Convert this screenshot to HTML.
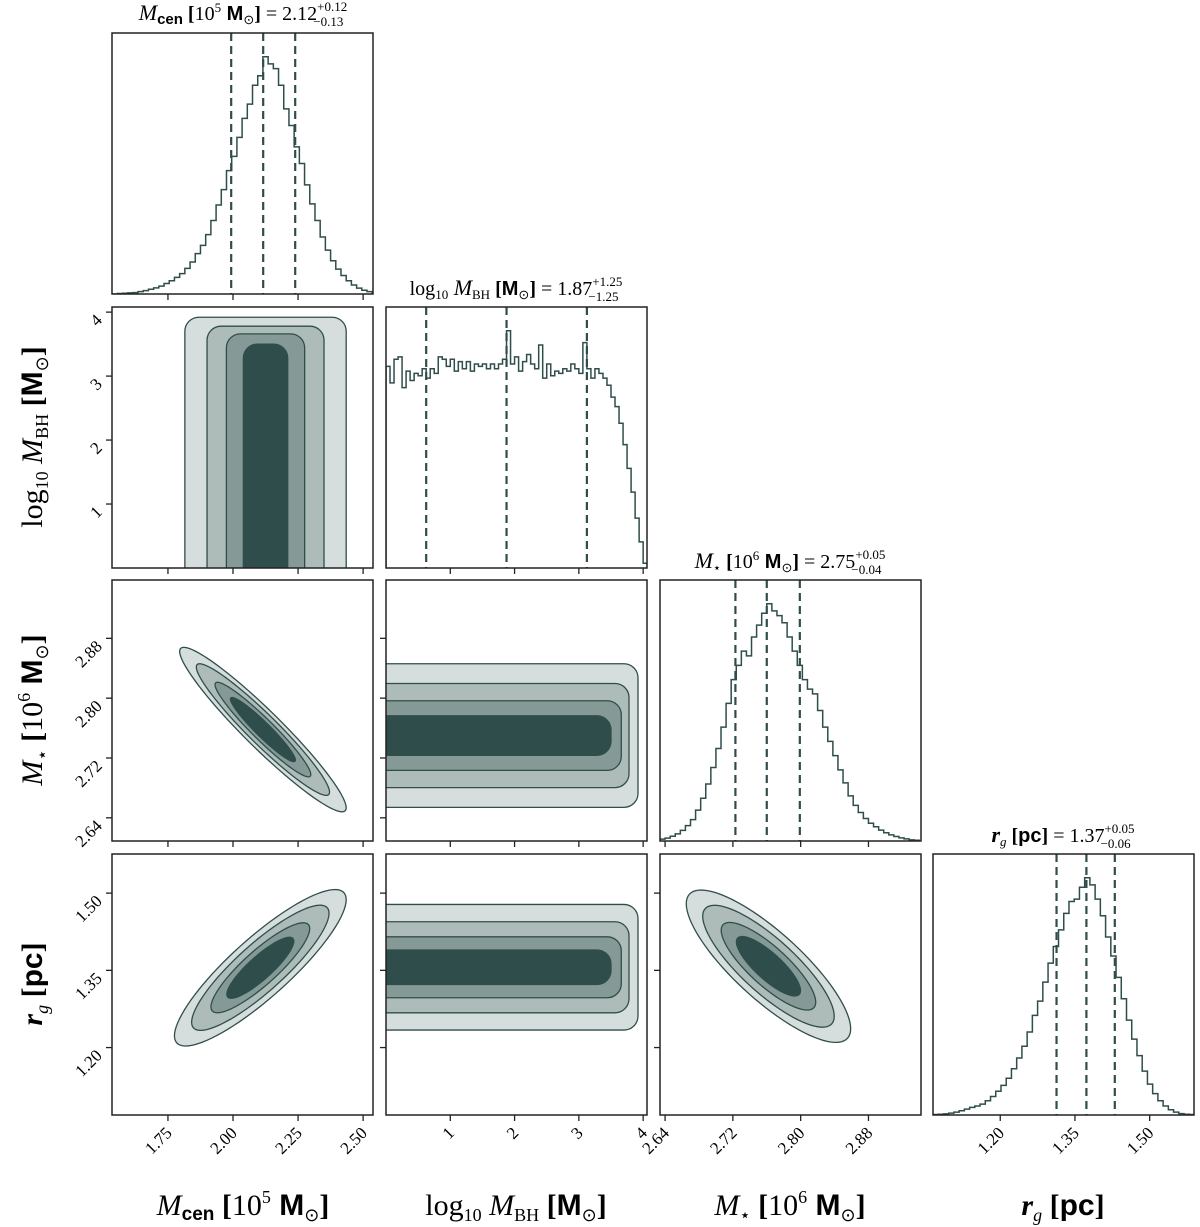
<!DOCTYPE html>
<html><head><meta charset="utf-8"><style>
html,body{margin:0;padding:0;background:#fff;}
svg{display:block;font-family:"Liberation Serif",serif;}
</style></head><body>
<svg id="fig" width="1200" height="1227" viewBox="0 0 1200 1227" xmlns="http://www.w3.org/2000/svg">
<defs id="defs"></defs>
<g id="marks"></g>
<g id="frames"></g>
<g id="labels" fill="#000">
  <text x="243" y="20" text-anchor="middle" font-size="20"><tspan font-style="italic" font-size="22">M</tspan><tspan font-family="Liberation Sans" font-weight="bold" font-size="15" dy="4">cen</tspan><tspan dy="-4" font-weight="bold"> [</tspan>10<tspan font-size="13" dy="-8">5</tspan><tspan dy="8" font-family="Liberation Sans" font-weight="bold"> M</tspan><tspan font-size="13" dy="4">⊙</tspan><tspan dy="-4" font-weight="bold">]</tspan> = 2.12<tspan font-size="13" dy="-9">+0.12</tspan><tspan font-size="13" dx="-34" dy="15">−0.13</tspan></text>
  <text x="516" y="295" text-anchor="middle" font-size="20">log<tspan font-size="13" dy="4">10</tspan><tspan dy="-4" font-style="italic" font-size="22"> M</tspan><tspan font-size="13" dy="4">BH</tspan><tspan dy="-4" font-weight="bold"> [</tspan><tspan font-family="Liberation Sans" font-weight="bold">M</tspan><tspan font-size="13" dy="4">⊙</tspan><tspan dy="-4" font-weight="bold">]</tspan> = 1.87<tspan font-size="13" dy="-9">+1.25</tspan><tspan font-size="13" dx="-34" dy="15">−1.25</tspan></text>
  <text x="790" y="568" text-anchor="middle" font-size="20"><tspan font-style="italic" font-size="22">M</tspan><tspan font-size="13" dy="4">⋆</tspan><tspan dy="-4" font-weight="bold"> [</tspan>10<tspan font-size="13" dy="-8">6</tspan><tspan dy="8" font-family="Liberation Sans" font-weight="bold"> M</tspan><tspan font-size="13" dy="4">⊙</tspan><tspan dy="-4" font-weight="bold">]</tspan> = 2.75<tspan font-size="13" dy="-9">+0.05</tspan><tspan font-size="13" dx="-34" dy="15">−0.04</tspan></text>
  <text x="1063" y="842" text-anchor="middle" font-size="20"><tspan font-style="italic" font-weight="bold" font-size="22">r</tspan><tspan font-style="italic" font-size="13" dy="4">g</tspan><tspan dy="-4" font-weight="bold"> [</tspan><tspan font-family="Liberation Sans" font-weight="bold">pc</tspan><tspan font-weight="bold">]</tspan> = 1.37<tspan font-size="13" dy="-9">+0.05</tspan><tspan font-size="13" dx="-34" dy="15">−0.06</tspan></text>
  <text x="243" y="1215" text-anchor="middle" font-size="30"><tspan font-style="italic">M</tspan><tspan font-family="Liberation Sans" font-weight="bold" font-size="19" dy="5">cen</tspan><tspan dy="-5" font-weight="bold"> [</tspan>10<tspan font-size="18" dy="-12">5</tspan><tspan dy="12" font-family="Liberation Sans" font-weight="bold"> M</tspan><tspan font-size="18" dy="6">⊙</tspan><tspan dy="-6" font-weight="bold">]</tspan></text>
  <text x="516" y="1215" text-anchor="middle" font-size="30">log<tspan font-size="18" dy="6">10</tspan><tspan dy="-6" font-style="italic"> M</tspan><tspan font-size="18" dy="6">BH</tspan><tspan dy="-6" font-weight="bold"> [</tspan><tspan font-family="Liberation Sans" font-weight="bold">M</tspan><tspan font-size="18" dy="6">⊙</tspan><tspan dy="-6" font-weight="bold">]</tspan></text>
  <text x="790" y="1215" text-anchor="middle" font-size="30"><tspan font-style="italic">M</tspan><tspan font-size="18" dy="6">⋆</tspan><tspan dy="-6" font-weight="bold"> [</tspan>10<tspan font-size="18" dy="-12">6</tspan><tspan dy="12" font-family="Liberation Sans" font-weight="bold"> M</tspan><tspan font-size="18" dy="6">⊙</tspan><tspan dy="-6" font-weight="bold">]</tspan></text>
  <text x="1063" y="1215" text-anchor="middle" font-size="30"><tspan font-style="italic" font-weight="bold">r</tspan><tspan font-style="italic" font-size="18" dy="6">g</tspan><tspan dy="-6" font-weight="bold"> [</tspan><tspan font-family="Liberation Sans" font-weight="bold">pc</tspan><tspan font-weight="bold">]</tspan></text>
  <text transform="translate(42,437) rotate(-90)" text-anchor="middle" font-size="30">log<tspan font-size="18" dy="6">10</tspan><tspan dy="-6" font-style="italic"> M</tspan><tspan font-size="18" dy="6">BH</tspan><tspan dy="-6" font-weight="bold"> [</tspan><tspan font-family="Liberation Sans" font-weight="bold">M</tspan><tspan font-size="18" dy="6">⊙</tspan><tspan dy="-6" font-weight="bold">]</tspan></text>
  <text transform="translate(42,710) rotate(-90)" text-anchor="middle" font-size="30"><tspan font-style="italic">M</tspan><tspan font-size="18" dy="6">⋆</tspan><tspan dy="-6" font-weight="bold"> [</tspan>10<tspan font-size="18" dy="-12">6</tspan><tspan dy="12" font-family="Liberation Sans" font-weight="bold"> M</tspan><tspan font-size="18" dy="6">⊙</tspan><tspan dy="-6" font-weight="bold">]</tspan></text>
  <text transform="translate(42,984) rotate(-90)" text-anchor="middle" font-size="30"><tspan font-style="italic" font-weight="bold">r</tspan><tspan font-style="italic" font-size="18" dy="6">g</tspan><tspan dy="-6" font-weight="bold"> [</tspan><tspan font-family="Liberation Sans" font-weight="bold">pc</tspan><tspan font-weight="bold">]</tspan></text>
</g>
</svg>
<script>
// ---------- data ----------
const mcenHistStart = 1.535, mcenHistWidth = 0.02;
const mcenHist = [0,0.2,0.3,0.5,0.6,1.0,1.4,2.0,2.6,3.3,4.4,5.6,7.0,8.6,10.8,13.5,17.0,20.5,25.0,31.0,37.5,44.0,52.0,58.0,66.0,74.0,80.0,88.0,92.0,100.0,97.0,95.0,88.0,78.0,71.0,62.0,55.0,46.0,38.0,31.0,24.0,18.5,14.0,10.5,7.8,5.6,3.8,2.5,1.6,1.0];
const mcenQuant = [1.993, 2.116, 2.239];

const mbhHistStart = 0, mbhHistWidth = 0.0625;
const mbhHist = [85,78,88,89,76,83,79,82,81,84,80,84,82,89,88,85,88,83,87,84,87,83,86,85,86,84,86,84,86,88,100,86,89,83,87,90,86,84,94,80,86,81,83,82,84,83,86,84,82,95,84,80,84,82,80,77,72,68,61,52,42,32,21,11,2];
const mbhQuant = [0.625, 1.875, 3.125];

const mstarHistStart = 2.634, mstarHistWidth = 0.006;
const mstarHist = [0.8,1.2,2.0,3.0,4.5,6.5,9.0,13.0,18.0,24.0,31.0,39.0,48.0,58.0,68.0,74.0,80.0,78.0,86.0,91.0,96.0,100.0,97.0,95.0,92.0,86.0,80.0,74.0,68.0,64.0,62.0,55.0,48.0,42.0,36.0,30.0,24.5,19.0,15.0,12.0,9.5,7.5,6.0,4.6,3.5,2.6,1.9,1.3,0.9,0.5,0.3];
const mstarQuant = [2.723, 2.760, 2.799];

const rgHistStart = 1.065, rgHistWidth = 0.0105;
const rgHist = [0.2,0.3,0.5,0.8,1.2,1.8,2.5,3.2,3.8,4.6,6.0,7.8,10.0,12.5,15.5,19.5,24.0,29.0,35.0,42.0,48.0,56.0,64.0,71.0,78.0,85.0,90.0,91.0,96.0,100.0,97.0,91.0,84.0,75.0,67.0,58.0,49.0,40.0,32.0,25.0,18.5,13.0,9.0,6.0,3.8,2.2,1.2,0.6,0.3,0.2];
const rgQuant = [1.313, 1.373, 1.430];

// 2D contours: [meanX, meanY, sdX, sdY, rho]
const sigmaLevels = [2.0, 1.6, 1.15, 0.78];
const mcenMstar = [2.115, 2.758, 0.160, 0.055, -0.95];
const mcenRg = [2.105, 1.355, 0.165, 0.076, 0.87];
const mstarRg = [2.762, 1.358, 0.0485, 0.074, -0.82];
// M_BH (flat) panels
const bandLevels = [2.0, 1.45, 0.97, 0.55];
const mbhTopEdge = [3.92, 3.78, 3.66, 3.50];
const mcenVsBh = [2.125, 0.155];
const mstarVsBh = [2.750, 0.048];
const rgVsBh = [1.356, 0.061];

// tick labels
const mcenTicks = ["1.75","2.00","2.25","2.50"];
const mbhTicks = ["1","2","3","4"];
const mstarTicks = ["2.64","2.72","2.80","2.88"];
const rgTicks = ["1.20","1.35","1.50"];

// ---------- layout ----------
const NS = "http://www.w3.org/2000/svg";
const colX = [112, 386, 660, 933], rowY = [33, 307, 580, 854], W = 261, H = 261;
const xr = {mcen:[1.535,2.538], mbh:[0,4.06], mstar:[2.634,2.942], rg:[1.065,1.589]};
const yr = {mbh:[0,4.08], mstar:[2.609,2.958], rg:[1.069,1.576]};
const vars = ["mcen","mbh","mstar","rg"];
const ticks = {mcen:mcenTicks, mbh:mbhTicks, mstar:mstarTicks, rg:rgTicks};
const fills = ["#d5dedc","#adbcb9","#859a96","#2f4e4b"];
const lineC = "#2f4e4b";

function sx(v, c){ const r = xr[vars[c]]; return colX[c] + (v - r[0]) / (r[1] - r[0]) * W; }
function sy(v, r){ const rg = yr[vars[r]]; return rowY[r] + H - (v - rg[0]) / (rg[1] - rg[0]) * H; }

const marks = document.getElementById("marks");
const frames = document.getElementById("frames");
const defs = document.getElementById("defs");
function mk(tag, attrs, parent){ const e = document.createElementNS(NS, tag); for (const k in attrs) e.setAttribute(k, attrs[k]); (parent||marks).appendChild(e); return e; }

for (let r = 0; r < 4; r++) for (let c = 0; c <= r; c++) {
  const cp = mk("clipPath", {id:"cp"+r+c}, defs);
  mk("rect", {x:colX[c], y:rowY[r], width:W, height:H}, cp);
}

function drawHist(c, start, width, counts, quant, name){
  const maxv = Math.max(...counts);
  const base = rowY[c] + H;
  const hy = v => base - v / (1.1 * maxv) * H;
  let d = "M" + sx(start, c) + "," + base;
  counts.forEach((v, i) => {
    const x0 = sx(start + i * width, c), x1 = sx(start + (i + 1) * width, c);
    d += " L" + x0 + "," + hy(v) + " L" + x1 + "," + hy(v);
  });
  d += " L" + sx(start + counts.length * width, c) + "," + base;
  const g = mk("g", {"clip-path":"url(#cp"+c+c+")"});
  
  
  const p = mk("path", {d:d, fill:"none", stroke:lineC, "stroke-width":1.5}, g);
  
  
  quant.forEach((q, i) => {
    const l = mk("line", {x1:sx(q,c), x2:sx(q,c), y1:rowY[c], y2:base, stroke:lineC, "stroke-width":2.2, "stroke-dasharray":"8,5"}, g);
    
    
  });
}
drawHist(0, mcenHistStart, mcenHistWidth, mcenHist, mcenQuant, "mcen");
drawHist(1, mbhHistStart, mbhHistWidth, mbhHist, mbhQuant, "mbh");
drawHist(2, mstarHistStart, mstarHistWidth, mstarHist, mstarQuant, "mstar");
drawHist(3, rgHistStart, rgHistWidth, rgHist, rgQuant, "rg");

function drawEllipses(r, c, p, name){
  const g = mk("g", {"clip-path":"url(#cp"+r+c+")"});
  
  
  sigmaLevels.forEach((s, k) => {
    let d = "";
    for (let i = 0; i <= 90; i++) {
      const t = i / 90 * 2 * Math.PI;
      const xv = p[0] + p[2] * s * Math.cos(t);
      const yv = p[1] + p[3] * s * (p[4] * Math.cos(t) + Math.sqrt(1 - p[4]*p[4]) * Math.sin(t));
      d += (i ? " L" : "M") + sx(xv, c).toFixed(2) + "," + sy(yv, r).toFixed(2);
    }
    const e = mk("path", {d:d + "Z", fill:fills[k], stroke:lineC, "stroke-width":1.3}, g);
    
    
  });
}
drawEllipses(2, 0, mcenMstar, "mcen-mstar");
drawEllipses(3, 0, mcenRg, "mcen-rg");
drawEllipses(3, 2, mstarRg, "mstar-rg");

function drawBand(r, c, p, bhIsX, name){
  const g = mk("g", {"clip-path":"url(#cp"+r+c+")"});
  
  
  bandLevels.forEach((s, k) => {
    const lo = p[0] - p[1] * s, hi = p[0] + p[1] * s, top = mbhTopEdge[k];
    let x, y, w, h, rad;
    if (bhIsX) {
      x = sx(-0.5, c); w = sx(top, c) - x;
      y = sy(hi, r); h = sy(lo, r) - y;
    } else {
      x = sx(lo, c); w = sx(hi, c) - x;
      y = sy(top, r); h = sy(-0.5, r) - y;
    }
    rad = Math.min(14, Math.min(w, h) / 2);
    const e = mk("rect", {x:x, y:y, width:w, height:h, rx:rad, ry:rad, fill:fills[k], stroke:lineC, "stroke-width":1.3}, g);
    
    
  });
}
drawBand(1, 0, mcenVsBh, false, "mcen-mbh");
drawBand(2, 1, mstarVsBh, true, "mbh-mstar");
drawBand(3, 1, rgVsBh, true, "mbh-rg");

for (let r = 0; r < 4; r++) for (let c = 0; c <= r; c++) {
  const f = mk("rect", {x:colX[c], y:rowY[r], width:W, height:H, fill:"none", stroke:"#222", "stroke-width":1.5}, frames);
  
  
  const by = rowY[r] + H;
  ticks[vars[c]].forEach(t => {
    const x = sx(parseFloat(t), c);
    const tk = mk("line", {x1:x, x2:x, y1:by, y2:by + 6, stroke:"#222", "stroke-width":1.3}, frames);
    
    
    if (r === 3) {
      const tl = mk("text", {x:x + 5, y:by + 19, "text-anchor":"end", "font-size":17, transform:"rotate(-45 " + (x + 5) + " " + (by + 19) + ")"}, frames);
      tl.textContent = t;
      
      
    }
  });
  if (r !== c) {
    ticks[vars[r]].forEach(t => {
      const y = sy(parseFloat(t), r);
      const tk = mk("line", {x1:colX[c] - 6, x2:colX[c], y1:y, y2:y, stroke:"#222", "stroke-width":1.3}, frames);
      
      
      if (c === 0) {
        const ax = colX[0] - 9, ay = y + 9;
        const tl = mk("text", {x:ax, y:ay, "text-anchor":"end", "font-size":17, transform:"rotate(-45 " + ax + " " + ay + ")"}, frames);
        tl.textContent = t;
        
        
      }
    });
  }
}
</script>
</body></html>
